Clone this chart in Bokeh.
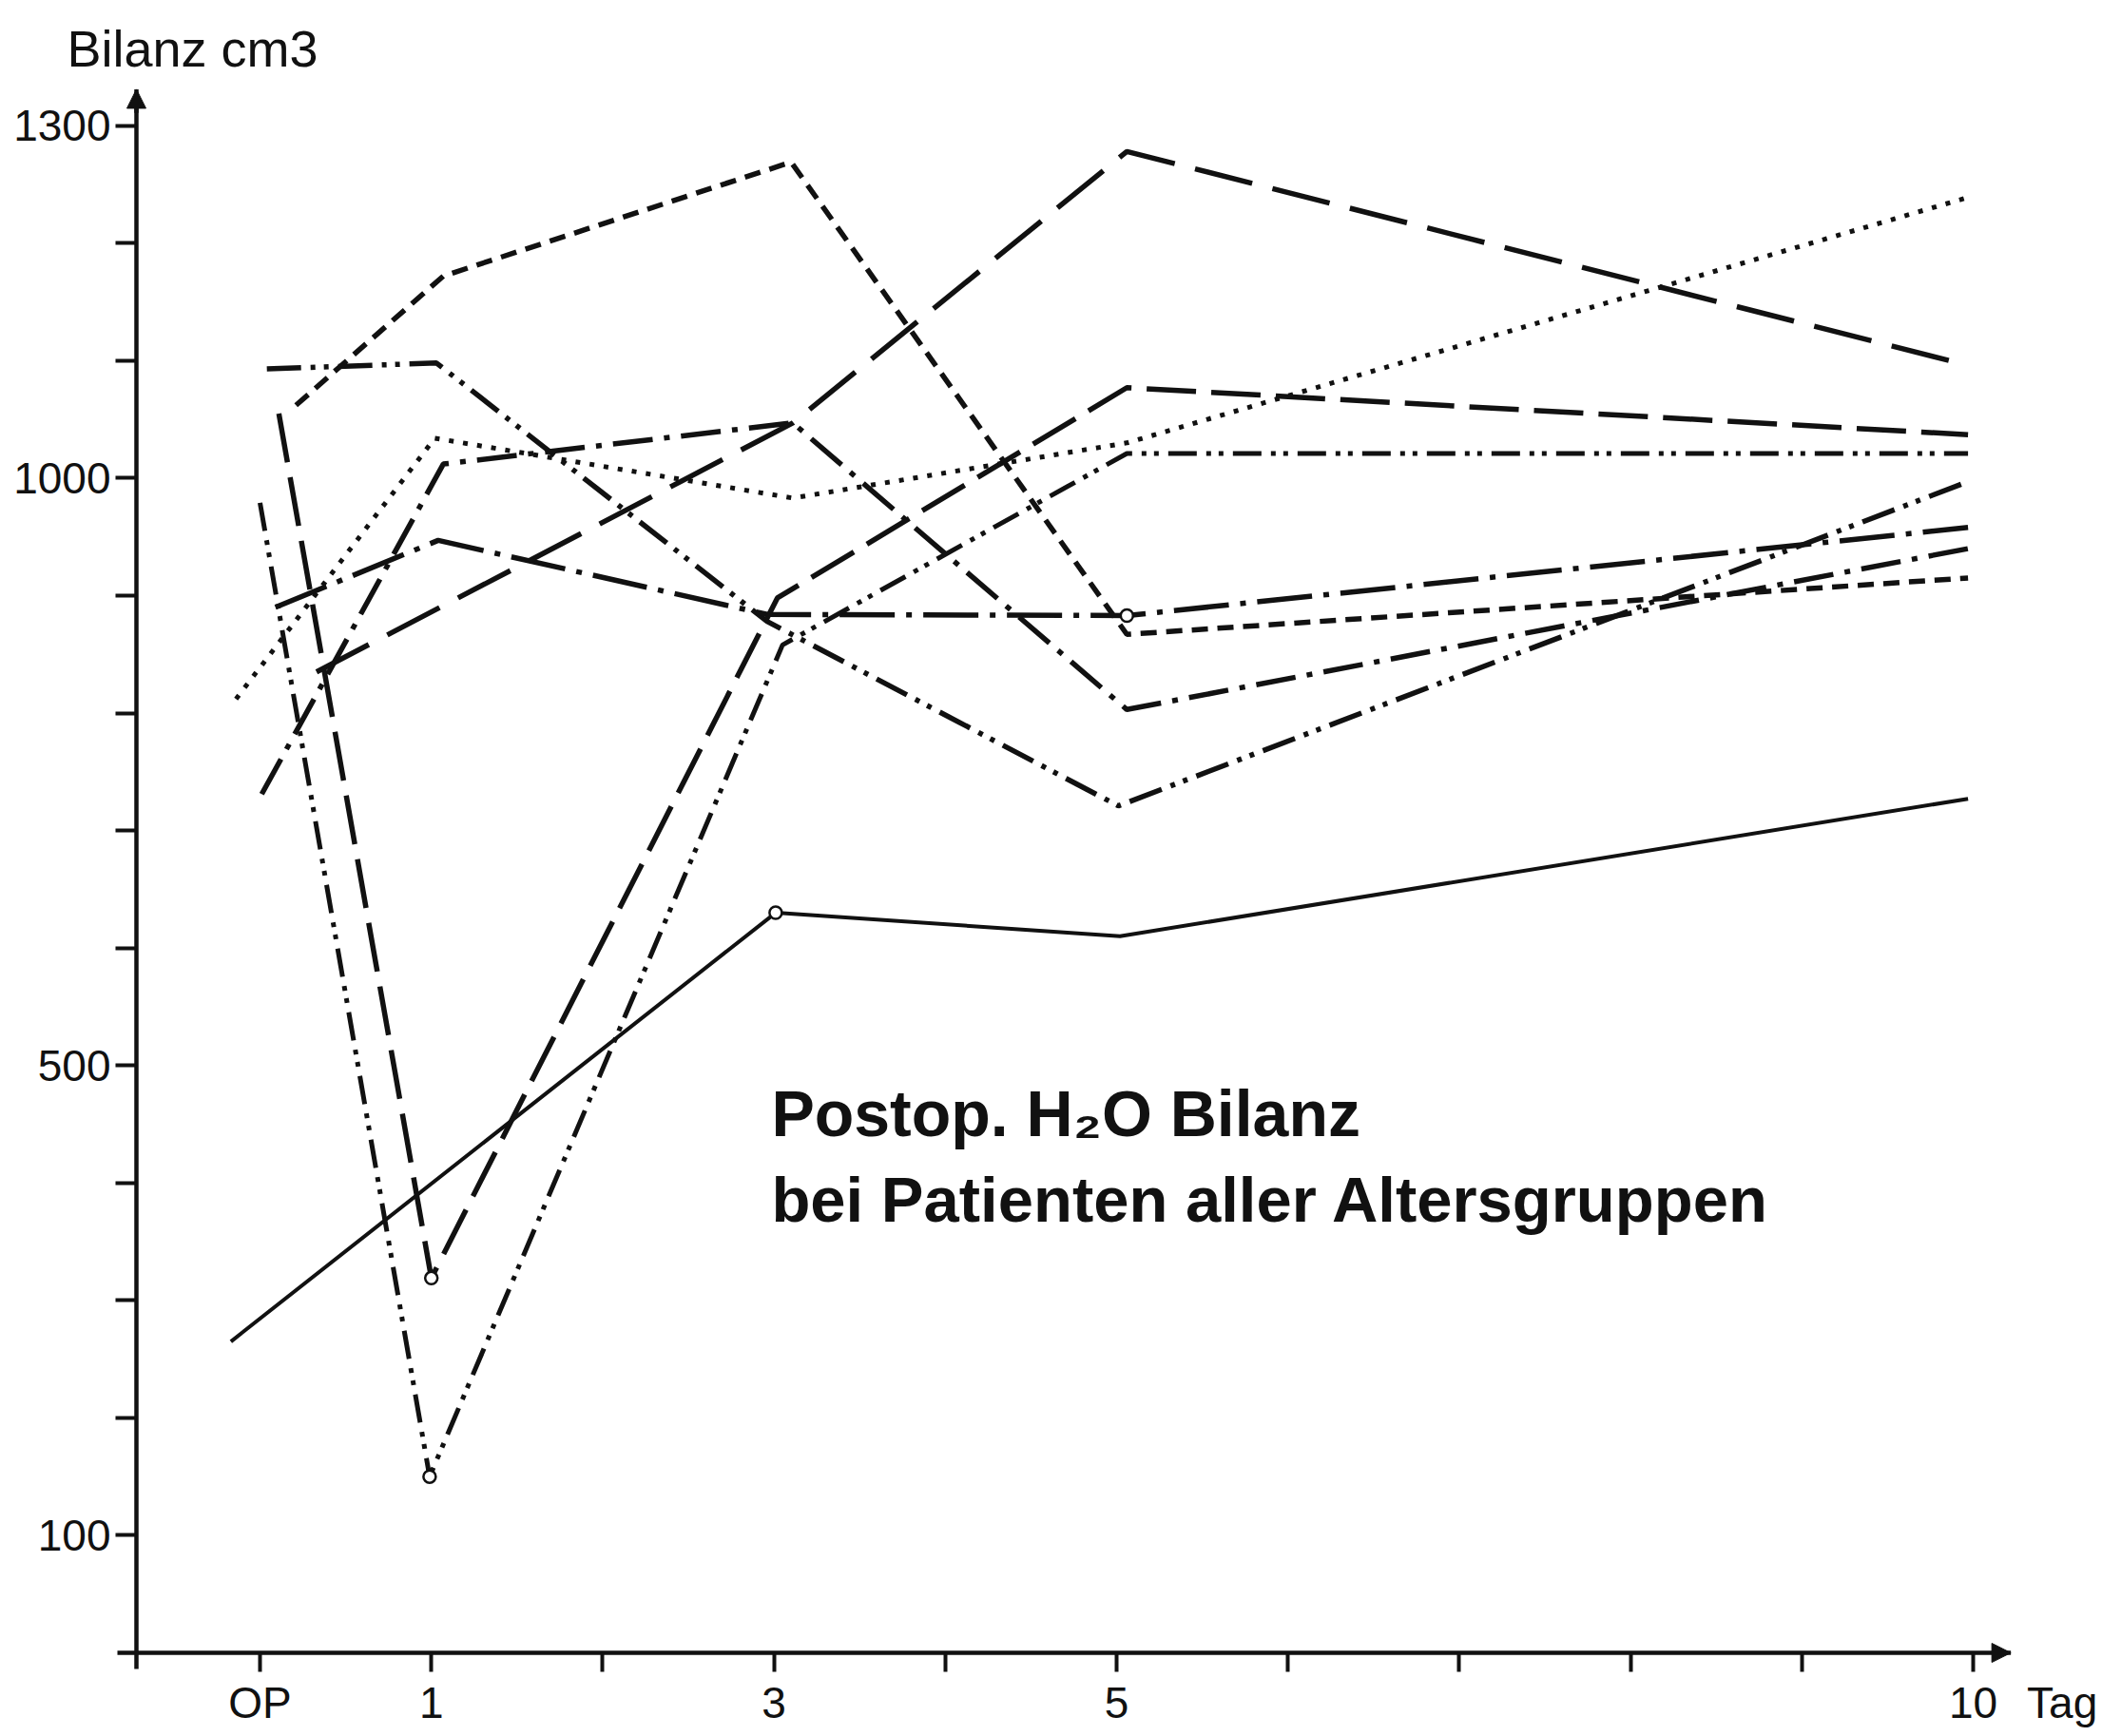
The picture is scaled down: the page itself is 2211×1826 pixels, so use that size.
from bokeh.plotting import figure
from bokeh.models import FixedTicker, Arrow, NormalHead, Label
from bokeh.embed import file_html
from bokeh.resources import INLINE

# ---------------- data ----------------
# x = postoperative day (OP = 0), y = water balance in cm3
solid_days = [-0.17, 3.01, 5.02, 9.97]
solid_vals = [265, 630, 610, 727]

shortdash_days = [0.21, 1.07, 3.10, 5.06, 9.97]
shortdash_vals = [1062, 1172, 1269, 867, 915]

dashdotdot_a_days = [0.04, 1.03, 2.96, 5.01, 9.97]
dashdotdot_a_vals = [1093, 1098, 878, 721, 997]

longdashdot_days = [0.09, 1.04, 2.96, 5.06, 9.97]
longdashdot_vals = [890, 947, 884, 883, 958]

longdash_a_days = [0.33, 3.11, 5.06, 9.97]
longdash_a_vals = [835, 1047, 1278, 1096]

dashdot_days = [0.01, 1.07, 3.11, 5.06, 9.97]
dashdot_vals = [731, 1012, 1047, 803, 940]

longdash_b_days = [0.11, 1.00, 3.02, 5.06, 9.97]
longdash_b_vals = [1055, 319, 898, 1077, 1037]

dashdotdot_b_days = [0.00, 0.99, 3.05, 5.06, 9.97]
dashdotdot_b_vals = [979, 150, 858, 1021, 1021]

dotted_days = [-0.14, 1.02, 3.11, 5.06, 9.97]
dotted_vals = [812, 1034, 983, 1030, 1239]

x_tick_marks = [0, 1, 2, 3, 4, 5, 6, 7, 8, 9, 10]
x_tick_labels = {0: "OP", 1: "1", 3: "3", 5: "5", 10: "10"}
x_unit = "Tag"
x_unit_pos = 10.52

y_tick_marks = [100, 200, 300, 400, 500, 600, 700, 800, 900, 1000, 1100, 1200, 1300]
y_tick_labels = {100: "100", 500: "500", 1000: "1000", 1300: "1300"}

y_title = "Bilanz cm3"
note_line1 = "Postop. H\u2082O Bilanz"
note_line2 = "bei Patienten aller Altersgruppen"

# ---------------- styles / layout ----------------
INK = "#111111"
FONT = "Liberation Sans"
KX = 180.2          # px per day
KY = 1.2356         # px per cm3
AX_X = -0.7214      # day at which the y axis is drawn
X_TIP = 10.22       # end of the x axis arrow
Y_TIP = 1331        # end of the y axis arrow
PAD_L, PAD_B = 22, 20   # frame margin beyond the drawn axis lines (px)

X0 = AX_X - PAD_L / KX
FW = 2073
X1 = X0 + FW / KX
Y0 = -PAD_B / KY
FH = 1672
Y1 = Y0 + FH / KY

series = [
    (solid_days, solid_vals, "solid", 4.0),
    (shortdash_days, shortdash_vals, "17 10", 5.5),
    (dashdotdot_a_days, dashdotdot_a_vals, "36 10 5 9 5 10", 5.5),
    (longdashdot_days, longdashdot_vals, "58 12 6 12", 5.5),
    (longdash_a_days, longdash_a_vals, "62 22", 5.5),
    (dashdot_days, dashdot_vals, "42 12 6 12", 5.5),
    (longdash_b_days, longdash_b_vals, "52 16", 5.5),
    (dashdotdot_b_days, dashdotdot_b_vals, "30 10 5 8 5 10", 5.0),
    (dotted_days, dotted_vals, "5 10", 5.0),
]

# open circle markers on some measured points (series index, point index)
marker_refs = [(6, 1), (7, 1), (0, 1), (3, 3)]

p = figure(
    frame_width=FW, frame_height=FH,
    min_border_left=121, min_border_right=16,
    min_border_top=86, min_border_bottom=60,
    x_range=(X0, X1), y_range=(Y0, Y1),
    output_backend="svg", toolbar_location=None,
    background_fill_color="white", border_fill_color="white",
    title=y_title,
)
p.outline_line_color = None
p.xgrid.grid_line_color = None
p.ygrid.grid_line_color = None

p.title.text_font = FONT
p.title.text_font_size = "54px"
p.title.text_font_style = "normal"
p.title.text_color = INK
p.title.align = "left"
p.title.vertical_align = "bottom"
p.title.offset = -51
p.title.standoff = 12

# axis lines (drawn inside the frame so the arrow heads stay whole)
p.line([X0 + 2 / KX, X_TIP], [0, 0], line_color=INK, line_width=4.5)
p.line([AX_X, AX_X], [Y0 + 3 / KY, Y_TIP], line_color=INK, line_width=4.5)
p.add_layout(Arrow(end=NormalHead(size=20, fill_color=INK, line_color=INK),
                   x_start=AX_X, y_start=Y_TIP - 20, x_end=AX_X, y_end=Y_TIP,
                   line_color=INK, line_width=4.5))
p.add_layout(Arrow(end=NormalHead(size=20, fill_color=INK, line_color=INK),
                   x_start=X_TIP - 0.1, y_start=0, x_end=X_TIP, y_end=0,
                   line_color=INK, line_width=4.5))

for xs, ys, dash, w in series:
    p.line(xs, ys, line_color=INK, line_width=w, line_dash=dash)

mx = [series[s][0][i] for s, i in marker_refs]
my = [series[s][1][i] for s, i in marker_refs]
p.scatter(mx, my, marker="circle", size=13, fill_color="white",
          line_color=INK, line_width=2.5)

# axes: labels on major ticks, tick marks as minor ticks
x_major = sorted(x_tick_labels) + [x_unit_pos]
x_over = {t: x_tick_labels[t] for t in x_tick_labels}
x_over[x_unit_pos] = x_unit
p.xaxis.ticker = FixedTicker(ticks=x_major, minor_ticks=x_tick_marks)
p.xaxis.major_label_overrides = x_over
p.yaxis.ticker = FixedTicker(ticks=sorted(y_tick_labels), minor_ticks=y_tick_marks)
p.yaxis.major_label_overrides = dict(y_tick_labels)

for ax in (p.xaxis, p.yaxis):
    ax.axis_line_color = None
    ax.major_tick_line_color = None
    ax.minor_tick_line_color = INK
    ax.minor_tick_line_width = 4
    ax.major_label_text_font = FONT
    ax.major_label_text_font_size = "46px"
    ax.major_label_text_color = INK
p.xaxis.minor_tick_in = PAD_B
p.xaxis.minor_tick_out = 0
p.xaxis.major_tick_in = 0
p.xaxis.major_tick_out = 0
p.xaxis.major_label_standoff = 6
p.yaxis.minor_tick_in = PAD_L
p.yaxis.minor_tick_out = 0
p.yaxis.major_tick_in = 0
p.yaxis.major_tick_out = 0
p.yaxis.major_label_standoff = 5

p.add_layout(Label(x=2.985, y=459, text=note_line1, text_font=FONT,
                   text_font_size="68px", text_font_style="bold", text_color=INK,
                   text_baseline="alphabetic", text_align="left"))
p.add_layout(Label(x=2.985, y=386, text=note_line2, text_font=FONT,
                   text_font_size="67px", text_font_style="bold", text_color=INK,
                   text_baseline="alphabetic", text_align="left"))

open("out.html", "w").write(file_html(p, INLINE))
